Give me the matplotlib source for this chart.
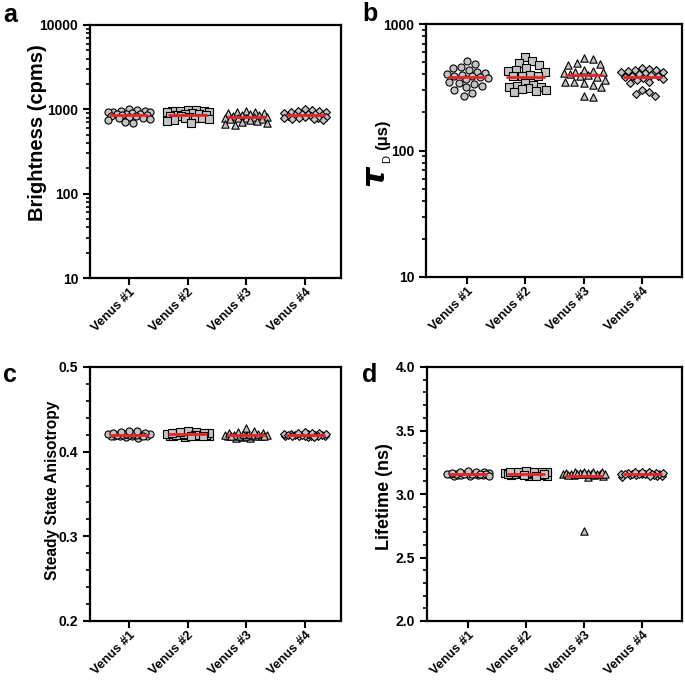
import matplotlib
matplotlib.use('Agg')
import matplotlib.pyplot as plt
import numpy as np
from matplotlib.ticker import FixedLocator, MultipleLocator, FormatStrFormatter, LogLocator, NullFormatter

plt.rcParams['font.family'] = ['Liberation Sans', 'DejaVu Sans']
plt.rcParams['font.weight'] = 'bold'
plt.rcParams['axes.labelweight'] = 'bold'
plt.rcParams['mathtext.fontset'] = 'dejavusans'

categories = ['Venus #1', 'Venus #2', 'Venus #3', 'Venus #4']

brightness_1 = [1010, 980, 960, 950, 940, 930, 920, 900, 890, 880, 870, 860, 850, 840, 830, 820, 800, 780, 760, 740, 710, 690]
brightness_2 = [990, 975, 960, 950, 945, 930, 920, 900, 880, 870, 860, 850, 840, 830, 820, 800, 790, 780, 760, 740, 720, 690]
brightness_3 = [960, 930, 920, 910, 900, 880, 860, 850, 840, 820, 810, 800, 790, 780, 770, 760, 740, 720, 710, 690, 670, 650]
brightness_4 = [1000, 980, 960, 950, 930, 920, 905, 890, 880, 870, 860, 850, 840, 830, 820, 810, 800, 790, 780, 770, 760, 750]

tau_1 = [514, 481, 460, 447, 430, 415, 408, 401, 396, 390, 385, 379, 372, 365, 351, 340, 334, 324, 315, 300, 284, 272]
tau_2 = [552, 511, 495, 470, 450, 430, 425, 421, 395, 390, 388, 385, 340, 330, 325, 320, 315, 310, 305, 300, 295, 292]
tau_3 = [535, 526, 490, 480, 470, 430, 425, 420, 415, 410, 400, 395, 390, 380, 360, 350, 345, 340, 330, 320, 268, 264]
tau_4 = [450, 440, 435, 430, 425, 420, 415, 410, 400, 395, 390, 385, 380, 375, 370, 360, 350, 340, 300, 290, 280, 270]

aniso_1 = [0.416, 0.417, 0.418, 0.418, 0.419, 0.419, 0.419, 0.420, 0.420, 0.420, 0.420, 0.420, 0.421, 0.421, 0.421, 0.421, 0.422, 0.422, 0.423, 0.424, 0.425, 0.419]
aniso_2 = [0.417, 0.418, 0.418, 0.419, 0.419, 0.420, 0.420, 0.420, 0.420, 0.421, 0.421, 0.421, 0.421, 0.422, 0.422, 0.422, 0.423, 0.423, 0.424, 0.419, 0.420, 0.418]
aniso_3 = [0.416, 0.416, 0.417, 0.418, 0.418, 0.419, 0.419, 0.419, 0.420, 0.420, 0.420, 0.420, 0.421, 0.421, 0.421, 0.422, 0.422, 0.423, 0.424, 0.428, 0.419, 0.418]
aniso_4 = [0.417, 0.418, 0.418, 0.419, 0.419, 0.419, 0.420, 0.420, 0.420, 0.420, 0.421, 0.421, 0.421, 0.421, 0.422, 0.422, 0.422, 0.423, 0.420, 0.419, 0.418, 0.417]

life_1 = [3.14, 3.145, 3.15, 3.15, 3.15, 3.155, 3.155, 3.155, 3.16, 3.16, 3.16, 3.16, 3.165, 3.165, 3.17, 3.17, 3.175, 3.18, 3.15, 3.16, 3.155, 3.145]
life_2 = [3.14, 3.145, 3.15, 3.15, 3.155, 3.155, 3.16, 3.16, 3.16, 3.165, 3.165, 3.165, 3.17, 3.17, 3.175, 3.175, 3.18, 3.16, 3.155, 3.15, 3.145, 3.17]
life_3 = [3.13, 3.145, 3.15, 3.15, 3.155, 3.155, 3.155, 3.16, 3.16, 3.16, 3.16, 3.165, 3.165, 3.165, 3.17, 3.17, 3.17, 3.175, 3.15, 3.155, 3.16, 2.71]
life_4 = [3.13, 3.14, 3.145, 3.15, 3.15, 3.155, 3.155, 3.155, 3.16, 3.16, 3.16, 3.16, 3.165, 3.165, 3.165, 3.17, 3.17, 3.175, 3.15, 3.155, 3.16, 3.145]

markers = ['o', 's', '^', 'D']
msizes = [26, 26, 28, 16]
mdiam = [8.0, 8.0, 8.5, 7.0]
FACE = '#c4c4c4'

W, H = 6.85, 6.8
fig = plt.figure(figsize=(W, H), dpi=100)

def rect(l, r, t, b):
    return [l / 685, 1 - b / 680, (r - l) / 685, (b - t) / 680]

def style(ax):
    for s in ax.spines.values():
        s.set_linewidth(1.6)
    ax.tick_params(axis='both', which='major', direction='out', length=5, width=1.5, labelsize=10)
    ax.tick_params(axis='x', which='major', pad=1)
    ax.tick_params(axis='y', which='minor', direction='out', length=3, width=1.2)
    ax.tick_params(axis='x', which='minor', length=0)
    ax.tick_params(top=False, right=False)
    ax.set_xticks(range(1, 5))
    ax.set_xticklabels(categories, rotation=45, ha='right', rotation_mode='anchor', fontsize=9.3, fontweight='bold')
    for lab in ax.get_yticklabels():
        lab.set_fontweight('bold')

def swarm(ax, groups, maxw=21):
    for i, vals in enumerate(groups):
        vals = np.asarray(vals, dtype=float)
        x0 = i + 1
        pts = ax.transData.transform(np.column_stack([np.full(len(vals), x0), vals]))
        cx = pts[0, 0]
        ys = pts[:, 1]
        d = mdiam[i]
        cands = [0.0]
        for k in range(1, maxw + 1):
            cands += [float(k), float(-k)]
        order = np.argsort(-ys)
        placed = []
        offs = np.zeros(len(vals))
        for idx in order:
            y = ys[idx]
            best_c, best_md = 0.0, -1.0
            for c in cands:
                if placed:
                    md = min(np.hypot(c - px, y - py) for px, py in placed)
                else:
                    md = np.inf
                if md >= d:
                    best_c = c
                    break
                if md > best_md:
                    best_md, best_c = md, c
            offs[idx] = best_c
            placed.append((best_c, y))
        xs = ax.transData.inverted().transform(np.column_stack([cx + offs, ys]))[:, 0]
        ax.scatter(xs, vals, marker=markers[i], s=msizes[i], facecolor=FACE,
                   edgecolor='black', linewidth=0.8, zorder=2)
        m = vals.mean()
        ax.hlines(m, x0 - 0.33, x0 + 0.33, color='#e8242a', lw=2.0, zorder=3)

# Panel a
axa = fig.add_axes(rect(90, 341, 25, 278))
axa.set_yscale('log')
axa.set_ylim(10, 10000)
axa.set_xlim(0.34, 4.61)
axa.yaxis.set_major_locator(FixedLocator([10, 100, 1000, 10000]))
axa.set_yticklabels(['10', '100', '1000', '10000'])
axa.yaxis.set_minor_locator(LogLocator(base=10, subs=np.arange(2, 10)))
axa.yaxis.set_minor_formatter(NullFormatter())
style(axa)
swarm(axa, [brightness_1, brightness_2, brightness_3, brightness_4])
axa.set_ylabel('Brightness (cpms)', fontsize=14.5, fontweight='bold')
axa.yaxis.set_label_coords(-0.171, 0.573)

# Panel b
axb = fig.add_axes(rect(426, 682, 24, 277))
axb.set_yscale('log')
axb.set_ylim(10, 1000)
axb.set_xlim(0.30, 4.68)
axb.yaxis.set_major_locator(FixedLocator([10, 100, 1000]))
axb.set_yticklabels(['10', '100', '1000'])
axb.yaxis.set_minor_locator(LogLocator(base=10, subs=np.arange(2, 10)))
axb.yaxis.set_minor_formatter(NullFormatter())
style(axb)
swarm(axb, [tau_1, tau_2, tau_3, tau_4])
axb.text(-0.193, 0.397, r'$\tau$', transform=axb.transAxes, rotation=90,
         ha='center', va='center', fontsize=23, fontweight='normal')
axb.text(-0.152, 0.466, 'D', transform=axb.transAxes, rotation=90,
         ha='center', va='center', fontsize=8, fontweight='normal')
axb.text(-0.170, 0.561, '(μs)', transform=axb.transAxes, rotation=90,
         ha='center', va='center', fontsize=12, fontweight='bold')

# Panel c
axc = fig.add_axes(rect(90, 341, 367, 621))
axc.set_ylim(0.2, 0.5)
axc.set_xlim(0.34, 4.61)
axc.yaxis.set_major_locator(MultipleLocator(0.1))
axc.yaxis.set_minor_locator(MultipleLocator(0.02))
axc.yaxis.set_major_formatter(FormatStrFormatter('%.1f'))
style(axc)
swarm(axc, [aniso_1, aniso_2, aniso_3, aniso_4])
axc.set_ylabel('Steady State Anisotropy', fontsize=11.2, fontweight='bold')
axc.yaxis.set_label_coords(-0.12, 0.516)

# Panel d
axd = fig.add_axes(rect(427, 682, 367, 621))
axd.set_ylim(2.0, 4.0)
axd.set_xlim(0.30, 4.68)
axd.yaxis.set_major_locator(MultipleLocator(0.5))
axd.yaxis.set_minor_locator(MultipleLocator(0.1))
axd.yaxis.set_major_formatter(FormatStrFormatter('%.1f'))
style(axd)
swarm(axd, [life_1, life_2, life_3, life_4])
axd.set_ylabel('Lifetime (ns)', fontsize=13, fontweight='bold')
axd.yaxis.set_label_coords(-0.133, 0.49)

for lab, (x, y) in zip('abcd', [(3, 3), (362, 2), (3, 363), (362, 363)]):
    fig.text(x / 685, 1 - y / 680, lab, fontsize=18, fontweight='bold', ha='left', va='top')

fig.savefig('out.png', dpi=100)
